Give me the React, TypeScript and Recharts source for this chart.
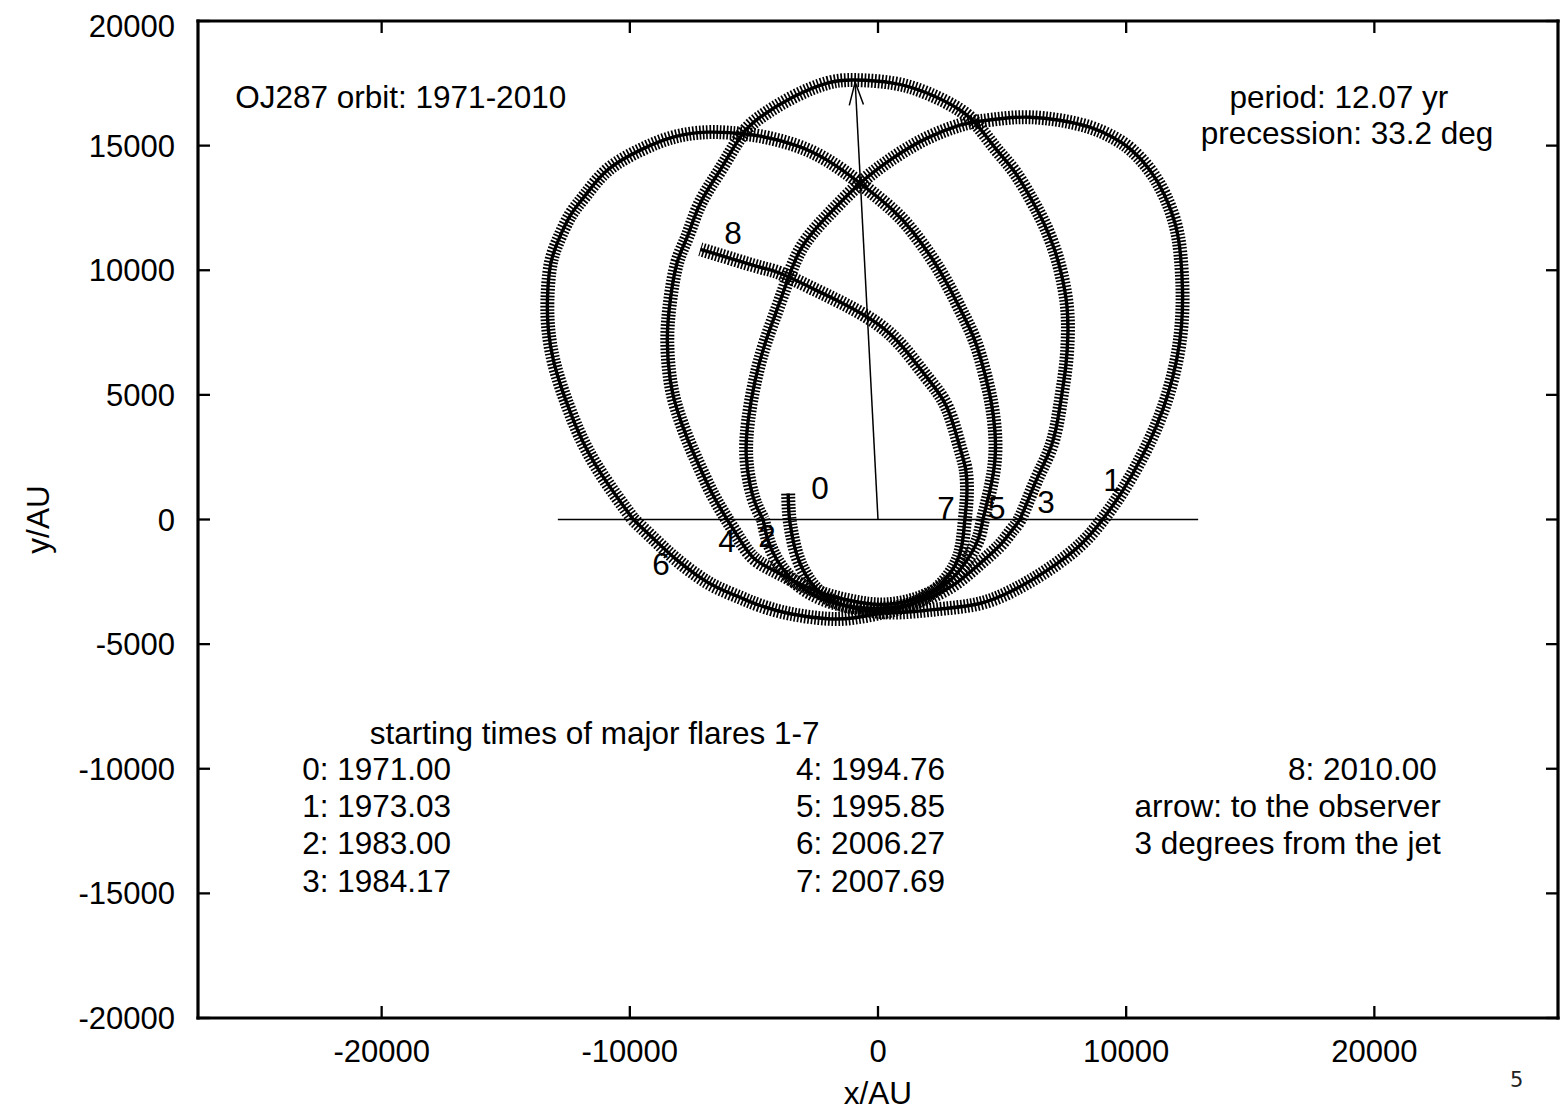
import React from 'react';
import { ScatterChart, Scatter, XAxis, YAxis, ReferenceLine } from 'recharts';

type Pt = [number, number];

const FONT = '"Liberation Sans", Arial, Helvetica, sans-serif';
const TEXT_SIZE = 31.5;
const TICK_SIZE = 31;

// Orbit of the secondary black hole, one array per orbital cycle (x, y in AU)
const orbit1971: Pt[] = [
  [-3620, 1040], [-3580, 160], [-3460, -640], [-3260, -1450], [-2940, -2170], [-2500, -2770],
  [-1930, -3210], [-1210, -3490], [-400, -3650], [480, -3730], [1490, -3690], [2700, -3570],
  [4100, -3370], [5430, -2850], [6800, -2050], [8130, -1040], [9050, 0], [9860, 1160],
  [10660, 2570], [11230, 3780], [11670, 4980], [12030, 6390], [12230, 7790], [12270, 9200],
  [12190, 10600], [11990, 11810], [11550, 13010], [10950, 14020], [10220, 14820], [9460, 15340],
  [8530, 15740], [7320, 16020], [6120, 16140], [5110, 16100], [4100, 15980], [3300, 15820],
  [1970, 15300], [600, 14500], [-720, 13490], [-2050, 12170], [-3140, 10800], [-3860, 9000],
  [-4510, 7190], [-4950, 5580], [-5230, 3980], [-5310, 2570], [-5150, 1370], [-4910, 560],
  [-4630, 0],
];

const orbit1983: Pt[] = [
  [-4630, 0], [-4430, -840], [-4060, -1650], [-3540, -2330], [-2900, -2850], [-2090, -3250],
  [-1130, -3490], [0, -3570], [1090, -3450], [2170, -3090], [3180, -2530], [4100, -1770],
  [4910, -1040], [5390, -440], [5710, 0], [6120, 960], [6520, 1890], [6920, 2770],
  [7200, 3780], [7400, 4980], [7570, 6180], [7650, 7390], [7610, 8590], [7400, 9800],
  [7120, 10800], [6720, 11810], [6200, 12810], [5510, 13940], [4790, 14820], [4100, 15700],
  [3300, 16430], [1970, 17110], [600, 17510], [-930, 17630], [-2050, 17510], [-3420, 16950],
  [-4750, 16140], [-5550, 15340], [-6360, 14020], [-7160, 12690], [-7690, 11330], [-8090, 10320],
  [-8370, 8800], [-8490, 7190], [-8370, 5580], [-8090, 4380], [-7650, 3170], [-7160, 2050],
  [-6640, 960], [-6080, 0],
];

const orbit1995: Pt[] = [
  [-6080, 0], [-5550, -840], [-5030, -1530], [-4350, -1970], [-3420, -2450], [-2330, -2930],
  [-1130, -3250], [80, -3410], [1290, -3250], [2290, -2850], [3100, -2250], [3700, -1450],
  [4060, -720], [4230, 0], [4510, 1160], [4710, 2370], [4710, 3570], [4550, 4780],
  [4270, 5980], [3900, 7190], [3380, 8310], [2820, 9400], [2170, 10480], [1410, 11530],
  [600, 12410], [-720, 13490], [-2050, 14420], [-3340, 15020], [-4750, 15380], [-5750, 15500],
  [-6880, 15540], [-8250, 15340], [-9580, 14820], [-10900, 14020], [-11790, 13010], [-12390, 12210],
  [-12880, 11200], [-13200, 10200], [-13320, 8800], [-13280, 7590], [-13080, 6390], [-12720, 5180],
  [-12270, 3980], [-11710, 2770], [-10900, 1450], [-9860, 0],
];

const orbit2007: Pt[] = [
  [-9860, 0], [-8970, -840], [-8170, -1570], [-7280, -2250], [-6480, -2730], [-5550, -3130],
  [-4750, -3450], [-3540, -3780], [-2050, -3980], [-930, -3940], [200, -3730], [1090, -3490],
  [1890, -3130], [2580, -2570], [3100, -1850], [3380, -1040], [3500, 0], [3580, 960],
  [3540, 1970], [3300, 2890], [2780, 4500], [1970, 5700], [1010, 6910], [-40, 7870],
  [-1410, 8670], [-2740, 9320], [-3940, 9880], [-4750, 10120], [-5960, 10480], [-7160, 10840],
];

const orbitCycles: Pt[][] = [orbit1971, orbit1983, orbit1995, orbit2007];

// Flare numbers written next to the orbit (label centre, AU)
const flareMarks = [
  { text: '0', x: -2340, y: 1260 },
  { text: '1', x: 9430, y: 1580 },
  { text: '2', x: -4470, y: -660 },
  { text: '3', x: 6770, y: 700 },
  { text: '4', x: -6080, y: -860 },
  { text: '5', x: 4790, y: 460 },
  { text: '6', x: -8740, y: -1790 },
  { text: '7', x: 2740, y: 460 },
  { text: '8', x: -5840, y: 11490 },
];

// Annotation text (baseline position, AU)
const notes = [
  { text: 'OJ287 orbit: 1971-2010', x: -25900, y: 16500, anchor: 'start' },
  { text: 'period: 12.07 yr', x: 18570, y: 16500, anchor: 'middle' },
  { text: 'precession: 33.2 deg', x: 18900, y: 15070, anchor: 'middle' },
  { text: 'starting times of major flares 1-7', x: -11420, y: -9010, anchor: 'middle' },
  { text: '0: 1971.00', x: -23200, y: -10450, anchor: 'start' },
  { text: '1: 1973.03', x: -23200, y: -11940, anchor: 'start' },
  { text: '2: 1983.00', x: -23200, y: -13420, anchor: 'start' },
  { text: '3: 1984.17', x: -23200, y: -14950, anchor: 'start' },
  { text: '4: 1994.76', x: -3300, y: -10450, anchor: 'start' },
  { text: '5: 1995.85', x: -3300, y: -11940, anchor: 'start' },
  { text: '6: 2006.27', x: -3300, y: -13420, anchor: 'start' },
  { text: '7: 2007.69', x: -3300, y: -14950, anchor: 'start' },
  { text: '8: 2010.00', x: 22520, y: -10450, anchor: 'end' },
  { text: 'arrow: to the observer', x: 22680, y: -11940, anchor: 'end' },
  { text: '3 degrees from the jet', x: 22680, y: -13420, anchor: 'end' },
];

const observerArrow = [{ x: 0, y: 0 }, { x: -920, y: 17550 }];
const sightBaseline = [{ x: -12900, y: 0 }, { x: 12900, y: 0 }];

const xTicks = [-20000, -10000, 0, 10000, 20000];
const yTicks = [-20000, -15000, -10000, -5000, 0, 5000, 10000, 15000, 20000];
const xDomain: [number, number] = [-27400, 27400];
const yDomain: [number, number] = [-20000, 20000];

const toPoints = (pts: Pt[]) => pts.map(([x, y]) => ({ x, y }));

const noDot = () => <g />;

const NoteText = (p: any) => (
  <text x={p.cx} y={p.cy} textAnchor={p.payload.anchor} fontSize={TEXT_SIZE} fontFamily={FONT} fill="#000">
    {p.payload.text}
  </text>
);

const FlareText = (p: any) => (
  <text x={p.cx} y={p.cy} dy="0.36em" textAnchor="middle" fontSize={TEXT_SIZE} fontFamily={FONT} fill="#000">
    {p.payload.text}
  </text>
);

const ArrowShape = (p: any) => {
  const { x1, y1, x2, y2 } = p;
  if ([x1, y1, x2, y2].some((v) => typeof v !== 'number' || Number.isNaN(v))) return <g />;
  const ang = Math.atan2(y2 - y1, x2 - x1);
  const len = 24;
  const spread = 0.3;
  const a1 = ang + Math.PI - spread;
  const a2 = ang + Math.PI + spread;
  return (
    <g stroke="#000" strokeWidth={1.5} fill="none">
      <line x1={x1} y1={y1} x2={x2} y2={y2} />
      <polyline
        points={`${x2 + len * Math.cos(a1)},${y2 + len * Math.sin(a1)} ${x2},${y2} ${x2 + len * Math.cos(a2)},${y2 + len * Math.sin(a2)}`}
      />
    </g>
  );
};

const axisLineStyle = { stroke: '#000', strokeWidth: 3.2, strokeLinecap: 'square' as const };
const tickLineStyle = { stroke: '#000', strokeWidth: 2.3 };
const tickText = { fill: '#000', fontSize: TICK_SIZE, fontFamily: FONT };

export default function App() {
  return (
    <div style={{ position: 'relative', width: 1552, height: 1104, background: '#fff' }}>
      <ScatterChart width={1552} height={1104} margin={{ top: 12, right: 1, bottom: 4, left: 20 }}>
        <XAxis
          type="number"
          dataKey="x"
          domain={xDomain}
          ticks={xTicks}
          allowDataOverflow
          height={90}
          tickSize={-12}
          tickMargin={34}
          axisLine={axisLineStyle}
          tickLine={tickLineStyle}
          tick={tickText}
          label={{ value: 'x/AU', position: 'insideBottom', offset: 4, fill: '#000', fontSize: TEXT_SIZE, fontFamily: FONT }}
        />
        <YAxis
          type="number"
          dataKey="y"
          domain={yDomain}
          ticks={yTicks}
          allowDataOverflow
          width={170}
          tickSize={-12}
          tickMargin={35}
          axisLine={axisLineStyle}
          tickLine={tickLineStyle}
          tick={tickText}
          label={{
            value: 'y/AU',
            angle: -90,
            position: 'insideLeft',
            offset: 10,
            fill: '#000',
            fontSize: TEXT_SIZE,
            fontFamily: FONT,
            style: { textAnchor: 'middle' },
          }}
        />
        <XAxis
          xAxisId="top"
          orientation="top"
          type="number"
          dataKey="x"
          domain={xDomain}
          ticks={xTicks}
          allowDataOverflow
          height={1}
          tickSize={-12}
          axisLine={axisLineStyle}
          tickLine={tickLineStyle}
          tick={noDot}
        />
        <YAxis
          yAxisId="right"
          orientation="right"
          type="number"
          dataKey="y"
          domain={yDomain}
          ticks={yTicks}
          allowDataOverflow
          width={1}
          tickSize={-12}
          axisLine={axisLineStyle}
          tickLine={tickLineStyle}
          tick={noDot}
        />
        <Scatter
          xAxisId="top"
          yAxisId="right"
          data={[{ x: 0, y: 0 }]}
          shape={noDot}
          isAnimationActive={false}
        />

        <ReferenceLine segment={sightBaseline} stroke="#000" strokeWidth={1.5} ifOverflow="extendDomain" />
        <ReferenceLine segment={observerArrow} shape={ArrowShape} ifOverflow="extendDomain" />

        {orbitCycles.map((cycle, i) => (
          <Scatter
            key={`bars-${i}`}
            data={toPoints(cycle)}
            shape={noDot}
            line={{ stroke: '#000', strokeWidth: 14, strokeDasharray: '1.7 1.7' }}
            lineType="joint"
            lineJointType="natural"
            isAnimationActive={false}
          />
        ))}
        {orbitCycles.map((cycle, i) => (
          <Scatter
            key={`track-${i}`}
            data={toPoints(cycle)}
            shape={noDot}
            line={{ stroke: '#000', strokeWidth: 3.4 }}
            lineType="joint"
            lineJointType="natural"
            isAnimationActive={false}
          />
        ))}

        <Scatter data={flareMarks} shape={FlareText} isAnimationActive={false} />
        <Scatter data={notes} shape={NoteText} isAnimationActive={false} />
      </ScatterChart>
      <div
        style={{
          position: 'absolute',
          left: 1502,
          top: 1060,
          fontFamily: '"DejaVu Sans", sans-serif',
          fontSize: 21,
          lineHeight: '24px',
          color: '#222',
        }}
      >
        5
      </div>
    </div>
  );
}
